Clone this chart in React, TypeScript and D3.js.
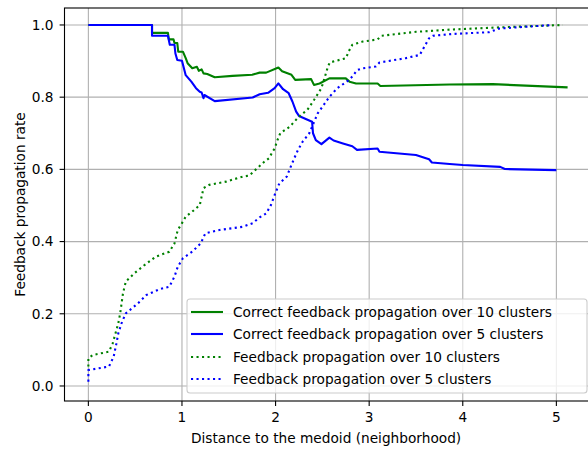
import React from 'react';
import * as d3 from 'd3';

// Readings: [distance, rate]
const correct10: [number, number][] = [
  [0, 1.0], [0.68, 1.0], [0.68, 0.978], [0.85, 0.978], [0.86, 0.96], [0.91, 0.96],
  [0.92, 0.95], [0.95, 0.95], [0.96, 0.926], [1.01, 0.926], [1.04, 0.908], [1.06, 0.894],
  [1.11, 0.88], [1.16, 0.884], [1.18, 0.873], [1.21, 0.877], [1.23, 0.866], [1.27, 0.864],
  [1.35, 0.855], [1.54, 0.859], [1.75, 0.862], [1.83, 0.868], [1.9, 0.868], [2.03, 0.882],
  [2.07, 0.872], [2.17, 0.862], [2.21, 0.848], [2.38, 0.85], [2.41, 0.834], [2.47, 0.838],
  [2.575, 0.852], [2.75, 0.852], [2.79, 0.843], [2.86, 0.838], [3.09, 0.838], [3.12, 0.831],
  [3.86, 0.835], [4.32, 0.836], [5.12, 0.827],
];

const correct5: [number, number][] = [
  [0, 1.0], [0.68, 1.0], [0.68, 0.97], [0.85, 0.97], [0.87, 0.945], [0.92, 0.945],
  [0.93, 0.921], [0.95, 0.903], [1.0, 0.901], [1.04, 0.861], [1.1, 0.843], [1.15, 0.825],
  [1.19, 0.815], [1.21, 0.813], [1.23, 0.797], [1.24, 0.806], [1.35, 0.789], [1.755, 0.799],
  [1.83, 0.808], [1.92, 0.812], [1.99, 0.825], [2.03, 0.838], [2.08, 0.822], [2.14, 0.811],
  [2.18, 0.788], [2.22, 0.76], [2.25, 0.748], [2.39, 0.732], [2.4, 0.7], [2.43, 0.681],
  [2.49, 0.67], [2.575, 0.688], [2.62, 0.68], [2.72, 0.672], [2.82, 0.664], [2.87, 0.654],
  [3.09, 0.658], [3.11, 0.649], [3.5, 0.64], [3.64, 0.628], [3.67, 0.619], [3.86, 0.615],
  [4.0, 0.612], [4.4, 0.607], [4.45, 0.601], [5.0, 0.598],
];

const feedback10: [number, number][] = [
  [0, 0.054], [0, 0.077], [0.05, 0.086], [0.22, 0.095], [0.26, 0.118], [0.29, 0.146],
  [0.32, 0.174], [0.34, 0.201], [0.37, 0.257], [0.4, 0.289], [0.49, 0.312], [0.6, 0.335],
  [0.72, 0.358], [0.865, 0.372], [0.92, 0.395], [0.955, 0.432], [1.0, 0.451], [1.04, 0.469],
  [1.11, 0.483], [1.19, 0.501], [1.23, 0.548], [1.29, 0.557], [1.47, 0.566], [1.65, 0.58],
  [1.72, 0.583], [1.79, 0.6], [1.88, 0.621], [1.93, 0.631], [1.96, 0.645], [1.99, 0.658],
  [2.02, 0.681], [2.05, 0.7], [2.15, 0.718], [2.25, 0.746], [2.34, 0.765], [2.41, 0.792],
  [2.49, 0.825], [2.53, 0.859], [2.56, 0.885], [2.58, 0.896], [2.75, 0.908], [2.79, 0.931],
  [2.82, 0.945], [2.93, 0.954], [3.09, 0.96], [3.13, 0.97], [3.5, 0.981], [3.86, 0.987],
  [4.36, 0.993], [5.07, 1.0],
];

const feedback5: [number, number][] = [
  [0, 0.012], [0, 0.044], [0.22, 0.054], [0.27, 0.081], [0.3, 0.118], [0.32, 0.146],
  [0.36, 0.178], [0.4, 0.201], [0.53, 0.229], [0.62, 0.252], [0.76, 0.268], [0.865, 0.275],
  [0.92, 0.303], [0.955, 0.33], [1.01, 0.354], [1.11, 0.372], [1.2, 0.395], [1.25, 0.423],
  [1.4, 0.432], [1.65, 0.441], [1.755, 0.451], [1.83, 0.467], [1.9, 0.478], [1.95, 0.501],
  [1.99, 0.529], [2.04, 0.561], [2.12, 0.58], [2.155, 0.603], [2.2, 0.631], [2.24, 0.654],
  [2.29, 0.677], [2.36, 0.7], [2.45, 0.755], [2.575, 0.801], [2.66, 0.825], [2.77, 0.845],
  [2.82, 0.857], [2.87, 0.875], [2.93, 0.88], [3.07, 0.885], [3.11, 0.896], [3.39, 0.908],
  [3.54, 0.917], [3.59, 0.94], [3.64, 0.963], [3.68, 0.97], [3.89, 0.975], [4.28, 0.98],
  [4.39, 0.99], [4.96, 1.0],
];

const xTicks = [0, 1, 2, 3, 4, 5];
const yTicks = [0, 0.2, 0.4, 0.6, 0.8, 1.0];

const series = [
  { label: 'Correct feedback propagation over 10 clusters', data: correct10, color: 'green', dotted: false },
  { label: 'Correct feedback propagation over 5 clusters', data: correct5, color: 'blue', dotted: false },
  { label: 'Feedback propagation over 10 clusters', data: feedback10, color: 'green', dotted: true },
  { label: 'Feedback propagation over 5 clusters', data: feedback5, color: 'blue', dotted: true },
];

const W = 588;
const H = 449;
const left = 64.5, right = 589.6, top = 8, bottom = 401;
const font = '"DejaVu Sans", sans-serif';
const fs = 13.7;

export default function App() {
  const x = d3.scaleLinear().domain([-0.255, 5.355]).range([left, right]);
  const y = d3.scaleLinear().domain([-0.0416, 1.047]).range([bottom, top]);
  const line = d3.line<[number, number]>().x(d => x(d[0])).y(d => y(d[1]));

  const legX = 187, legY = 299, legW = 400, legH = 94;
  const rowY = [312, 334, 357, 379];

  return (
    <div style={{ position: 'absolute', left: 0, top: 0 }}>
      <svg width={W} height={H} style={{ display: 'block', fontFamily: font }}>
        <rect x={0} y={0} width={W} height={H} fill="white" />
        <defs>
          <clipPath id="plot">
            <rect x={left} y={top} width={right - left} height={bottom - top} />
          </clipPath>
        </defs>
        {/* grid */}
        {xTicks.map(t => (
          <line key={'gx' + t} x1={x(t)} x2={x(t)} y1={top} y2={bottom} stroke="#b0b0b0" strokeWidth={1.1} />
        ))}
        {yTicks.map(t => (
          <line key={'gy' + t} x1={left} x2={right} y1={y(t)} y2={y(t)} stroke="#b0b0b0" strokeWidth={1.1} />
        ))}
        {/* series */}
        <g clipPath="url(#plot)">
          {series.map(s => (
            <path
              key={s.label}
              d={line(s.data) || ''}
              fill="none"
              stroke={s.color}
              strokeWidth={2.1}
              strokeDasharray={s.dotted ? '2.1 3.4' : undefined}
              strokeLinejoin="round"
            />
          ))}
        </g>
        {/* spines */}
        <rect x={left} y={top} width={right - left} height={bottom - top} fill="none" stroke="black" strokeWidth={1.1} />
        {/* x ticks */}
        {xTicks.map(t => (
          <g key={'xt' + t}>
            <line x1={x(t)} x2={x(t)} y1={bottom} y2={bottom + 4.9} stroke="black" strokeWidth={1.1} />
            <text x={x(t)} y={bottom + 21} textAnchor="middle" fontSize={fs} fill="black">{t}</text>
          </g>
        ))}
        {/* y ticks */}
        {yTicks.map(t => (
          <g key={'yt' + t}>
            <line x1={left - 4.9} x2={left} y1={y(t)} y2={y(t)} stroke="black" strokeWidth={1.1} />
            <text x={left - 11} y={y(t)} dy="0.35em" textAnchor="end" fontSize={fs} fill="black">{t.toFixed(1)}</text>
          </g>
        ))}
        <text x={(left + right) / 2 - 1} y={443} textAnchor="middle" fontSize={fs} fill="black">
          Distance to the medoid (neighborhood)
        </text>
        <text
          transform={`translate(20,${(top + bottom) / 2}) rotate(-90)`}
          textAnchor="middle"
          dy="0.35em"
          fontSize={fs}
          fill="black"
        >
          Feedback propagation rate
        </text>
        {/* legend */}
        <rect x={legX} y={legY} width={legW} height={legH} rx={3} fill="white" fillOpacity={0.8} stroke="#cccccc" strokeWidth={1.1} />
        {series.map((s, i) => (
          <g key={'lg' + i}>
            <line
              x1={191} x2={223} y1={rowY[i]} y2={rowY[i]}
              stroke={s.color} strokeWidth={2.1}
              strokeDasharray={s.dotted ? '2.1 3.4' : undefined}
            />
            <text x={233} y={rowY[i]} dy="0.35em" fontSize={fs} fill="black">{s.label}</text>
          </g>
        ))}
      </svg>
    </div>
  );
}
